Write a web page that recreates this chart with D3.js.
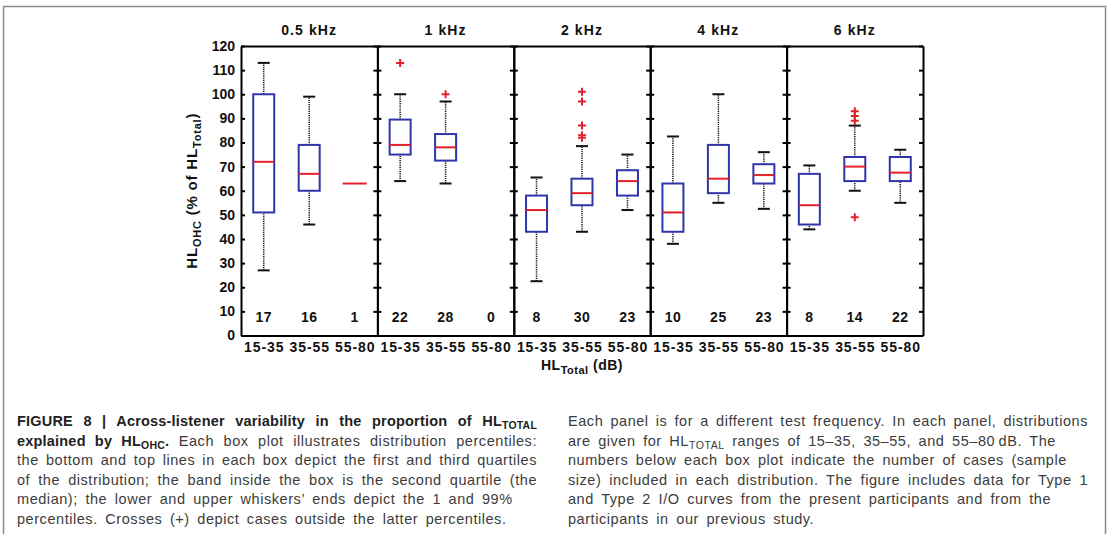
<!DOCTYPE html>
<html>
<head>
<meta charset="utf-8">
<script src="https://cdn.jsdelivr.net/npm/d3@7"></script>
<style>
  body { margin: 0; background: #fff; }
  svg { display: block; }
  text { font-family: "Liberation Sans", Arial, sans-serif; }
</style>
</head>
<body>
<svg id="chart" width="1108" height="534"></svg>
<script>
// panels and groups
var freqs = ["0.5 kHz", "1 kHz", "2 kHz", "4 kHz", "6 kHz"]
var ranges = ["15-35", "35-55", "55-80"]
var counts = [[17, 16, 1], [22, 28, 0], [8, 30, 23], [10, 25, 23], [8, 14, 22]]

// box plot values per panel, per group (null = not drawn)
var p01 = [[27, 46, null], [64, 63, null], [22.5, 43, 52], [38, 55, 52.5], [44, 60, 55]]
var q1 = [[51, 60, null], [75, 72.5, null], [43, 54, 58], [43, 59, 63], [46, 64, 64]]
var med = [[72, 67, 63], [79, 78, null], [52, 59, 64], [51, 65, 66.5], [54, 70, 67.5]]
var q3 = [[100, 79, null], [89.5, 83.5, null], [58, 65, 68.5], [63, 79, 71], [67, 74, 74]]
var p99 = [[113, 99, null], [100, 97, null], [65.5, 78.5, 75], [82.5, 100, 76], [70.5, 87, 77]]
var outliers = [
  [[], [], []],
  [[113], [100], []],
  [[], [101, 97, 87, 83, 82], []],
  [[], [], []],
  [[], [93, 91, 89, 49], []]
]

var yTicks = d3.range(0, 121, 10)

var blue = "#2f35a8"
var red = "#e3202b"

var svg = d3.select("#chart")

// outer frame of the figure
svg.append("rect")
  .attr("x", 3.5).attr("y", 6.5)
  .attr("width", 1102).attr("height", 600)
  .attr("fill", "none")
  .attr("stroke", "#8c8c8c")
  .attr("stroke-width", 1.5)

var x = d3.scaleBand().domain(freqs).range([241, 923])
var y = d3.scaleLinear().domain([0, 120]).range([335.5, 46])
var bw = x.bandwidth()
var xi = d3.scalePoint().domain(ranges).range([0, bw]).padding(0.5)

var boxW = 21, capW = 12

function styleAxis(g) {
  g.attr("font-size", 14)
    .attr("font-weight", "bold")
    .attr("font-family", '"Liberation Sans", Arial, sans-serif')
  g.select(".domain").attr("stroke-width", 2)
  g.selectAll(".tick line").attr("stroke-width", 2)
  g.selectAll("text").attr("fill", "#111")
}

freqs.forEach(function (f, i) {
  var g = svg.append("g").attr("transform", "translate(" + x(f) + ",0)")

  // left and right axes, ticks pointing inwards
  g.append("g")
    .call(d3.axisLeft(y).tickValues(yTicks).tickSize(-4).tickSizeOuter(0).tickPadding(6)
      .tickFormat(i == 0 ? d3.format("d") : ""))
    .call(styleAxis)

  g.append("g")
    .attr("transform", "translate(" + bw + ",0)")
    .call(d3.axisRight(y).tickValues(yTicks).tickSize(-4).tickSizeOuter(0).tickFormat(""))
    .call(styleAxis)

  g.append("g")
    .attr("transform", "translate(0," + y(0) + ")")
    .call(d3.axisBottom(xi).tickSize(0).tickSizeOuter(0).tickPadding(7))
    .call(styleAxis)
    .selectAll("text").attr("letter-spacing", 0.9)

  g.append("g")
    .attr("transform", "translate(0," + y(120) + ")")
    .call(d3.axisTop(xi).tickSize(0).tickSizeOuter(0).tickFormat(""))
    .call(styleAxis)

  // panel title
  g.append("text")
    .attr("x", bw / 2).attr("y", 35)
    .attr("text-anchor", "middle")
    .attr("font-size", 14).attr("font-weight", "bold")
    .attr("letter-spacing", 1.1)
    .attr("fill", "#111")
    .text(f)

  ranges.forEach(function (r, j) {
    var cx = xi(r)

    if (p01[i][j] != null) {
      // dotted whiskers
      g.append("line")
        .attr("x1", cx).attr("x2", cx)
        .attr("y1", y(p01[i][j])).attr("y2", y(q1[i][j]))
        .attr("stroke", "#111").attr("stroke-width", 1.5)
        .attr("stroke-dasharray", "1.2,1")
      g.append("line")
        .attr("x1", cx).attr("x2", cx)
        .attr("y1", y(q3[i][j])).attr("y2", y(p99[i][j]))
        .attr("stroke", "#111").attr("stroke-width", 1.5)
        .attr("stroke-dasharray", "1.2,1")
      ;[p01[i][j], p99[i][j]].forEach(function (v) {
        g.append("line")
          .attr("x1", cx - capW / 2).attr("x2", cx + capW / 2)
          .attr("y1", y(v)).attr("y2", y(v))
          .attr("stroke", "#111").attr("stroke-width", 2)
      })
    }

    if (q1[i][j] != null) {
      g.append("rect")
        .attr("x", cx - boxW / 2)
        .attr("y", y(q3[i][j]))
        .attr("width", boxW)
        .attr("height", y(q1[i][j]) - y(q3[i][j]))
        .attr("fill", "none")
        .attr("stroke", blue).attr("stroke-width", 2)
    }

    if (med[i][j] != null) {
      var mw = q1[i][j] != null ? boxW : 24
      g.append("line")
        .attr("x1", cx - mw / 2).attr("x2", cx + mw / 2)
        .attr("y1", y(med[i][j])).attr("y2", y(med[i][j]))
        .attr("stroke", red).attr("stroke-width", 2)
    }

    outliers[i][j].forEach(function (v) {
      g.append("path")
        .attr("d", "M" + (cx - 4) + "," + y(v) + "H" + (cx + 4) +
          "M" + cx + "," + (y(v) - 4) + "V" + (y(v) + 4))
        .attr("stroke", red).attr("stroke-width", 2)
    })

    // sample size
    g.append("text")
      .attr("x", cx).attr("y", y(0) - 14)
      .attr("text-anchor", "middle")
      .attr("font-size", 14).attr("font-weight", "bold")
      .attr("letter-spacing", 0.5)
      .attr("fill", "#111")
      .text(counts[i][j])
  })
})

// y axis label
var yl = svg.append("text")
  .attr("transform", "translate(197," + (y(60)) + ") rotate(-90)")
  .attr("text-anchor", "middle")
  .attr("font-size", 15).attr("font-weight", "bold")
  .attr("letter-spacing", 0.8)
  .attr("fill", "#111")
yl.append("tspan").text("HL")
yl.append("tspan").attr("dy", 4).attr("font-size", 11).text("OHC")
yl.append("tspan").attr("dy", -4).text(" (% of HL")
yl.append("tspan").attr("dy", 4).attr("font-size", 11).text("Total")
yl.append("tspan").attr("dy", -4).text(")")

// x axis label
var xl = svg.append("text")
  .attr("x", 582).attr("y", 370)
  .attr("text-anchor", "middle")
  .attr("font-size", 14).attr("font-weight", "bold")
  .attr("letter-spacing", 0.5)
  .attr("fill", "#111")
xl.append("tspan").text("HL")
xl.append("tspan").attr("dy", 4).attr("font-size", 11).text("Total")
xl.append("tspan").attr("dy", -4).text(" (dB)")

// caption, two columns; each line is a list of [text, bold, sub]
var captionLeft = [
  [["FIGURE 8 | Across-listener variability in the proportion of HL", 1, 0], ["TOTAL", 1, 1]],
  [["explained by HL", 1, 0], ["OHC", 1, 1], [".", 1, 0], [" Each box plot illustrates distribution percentiles:", 0, 0]],
  [["the bottom and top lines in each box depict the first and third quartiles", 0, 0]],
  [["of the distribution; the band inside the box is the second quartile (the", 0, 0]],
  [["median); the lower and upper whiskers\u2019 ends depict the 1 and 99%", 0, 0]],
  [["percentiles. Crosses (+) depict cases outside the latter percentiles.", 0, 0]]
]
var captionRight = [
  [["Each panel is for a different test frequency. In each panel, distributions", 0, 0]],
  [["are given for HL", 0, 0], ["TOTAL", 0, 1], [" ranges of 15\u201335, 35\u201355, and 55\u201380\u2009dB. The", 0, 0]],
  [["numbers below each box plot indicate the number of cases (sample", 0, 0]],
  [["size) included in each distribution. The figure includes data for Type 1", 0, 0]],
  [["and Type 2 I/O curves from the present participants and from the", 0, 0]],
  [["participants in our previous study.", 0, 0]]
]
var justifyLeft = [1, 1, 1, 1, 0, 0]
var justifyRight = [1, 0, 0, 1, 0, 0]

function drawCaption(lines, justify, x0, width) {
  lines.forEach(function (parts, k) {
    var t = svg.append("text")
      .attr("x", x0).attr("y", 426 + k * 19.5)
      .attr("font-size", 14.5)
      .attr("letter-spacing", 0.55)
      .attr("word-spacing", 3)
      .attr("fill", "#3c3c3c")
    var sub = false
    parts.forEach(function (p) {
      var s = t.append("tspan").text(p[0])
        .attr("font-weight", p[1] ? "bold" : "normal")
      if (p[1]) s.attr("fill", "#222").attr("letter-spacing", 0.2)
      if (p[2] && !sub) { s.attr("dy", 3).attr("font-size", 10.5); sub = true }
      else if (!p[2] && sub) { s.attr("dy", -3); sub = false }
      else if (p[2]) s.attr("font-size", 10.5)
    })
    if (justify[k]) {
      var natural = t.node().getComputedTextLength()
      var spaces = parts.map(function (p) { return p[0] }).join("").split(" ").length - 1
      if (spaces > 0) t.attr("word-spacing", 3 + (width - natural) / spaces)
    }
  })
}

drawCaption(captionLeft, justifyLeft, 17, 520)
drawCaption(captionRight, justifyRight, 568, 520)
</script>
</body>
</html>
